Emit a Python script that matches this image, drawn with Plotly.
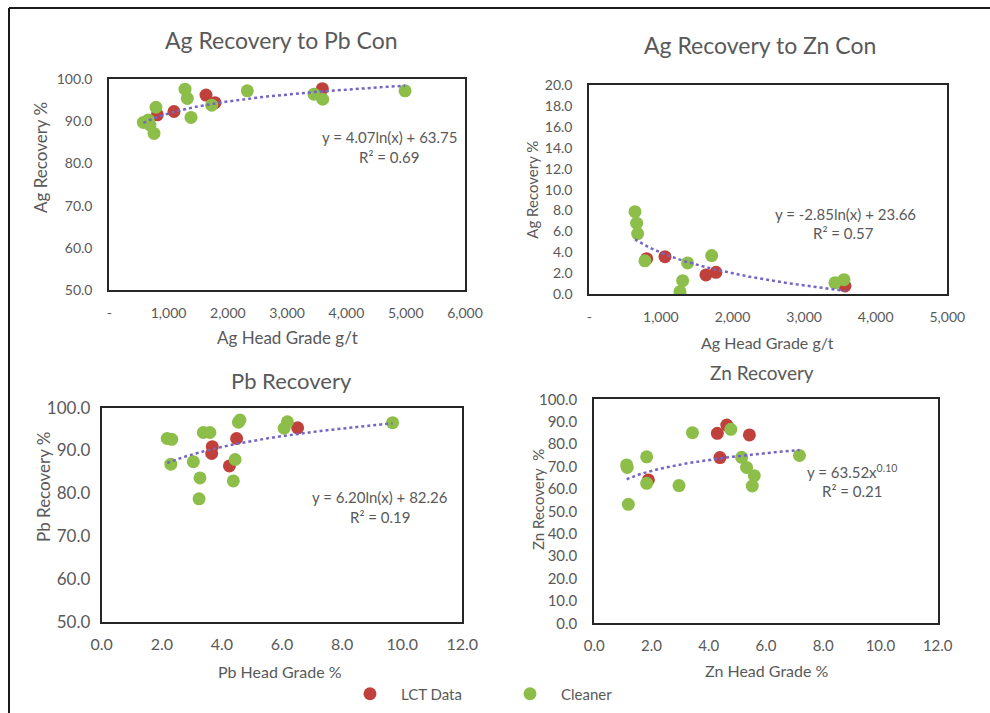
import numpy as np
import plotly.graph_objects as go

W, H = 990, 713

# ---------------- data ----------------
# Panel 1: Ag Recovery to Pb Con
ag_pb_lct_x = [810, 1091, 1631, 1783, 3594]
ag_pb_lct_y = [91.5, 92.3, 96.2, 94.4, 97.7]
ag_pb_cln_x = [574, 658, 686, 754, 787, 1277, 1316, 1378, 1727, 2328, 3453, 3600, 4989]
ag_pb_cln_y = [89.7, 90.3, 89.1, 87.1, 93.3, 97.6, 95.4, 90.9, 93.8, 97.2, 96.4, 95.2, 97.2]
ag_pb_fit = (4.07, 63.75)          # y = a ln(x) + b

# Panel 2: Ag Recovery to Zn Con
ag_zn_lct_x = [801, 1057, 1629, 1769, 3571]
ag_zn_lct_y = [3.4, 3.6, 1.85, 2.1, 0.8]
ag_zn_cln_x = [638, 661, 675, 777, 1266, 1304, 1373, 1709, 3431, 3557]
ag_zn_cln_y = [7.9, 6.8, 5.8, 3.2, 0.25, 1.3, 3.0, 3.7, 1.1, 1.4]
ag_zn_fit = (-2.85, 23.66)         # y = a ln(x) + b

# Panel 3: Pb Recovery
pb_lct_x = [3.68, 3.66, 4.25, 4.49, 6.52]
pb_lct_y = [90.9, 89.3, 86.4, 92.8, 95.3]
pb_cln_x = [2.18, 2.33, 2.30, 3.05, 3.27, 3.24, 3.38, 3.60, 4.38, 4.44, 4.55, 4.60, 6.07, 6.18, 9.68]
pb_cln_y = [92.8, 92.6, 86.8, 87.4, 83.6, 78.7, 94.2, 94.2, 82.9, 87.9, 96.6, 97.1, 95.2, 96.7, 96.5]
pb_fit = (6.20, 82.26)             # y = a ln(x) + b

# Panel 4: Zn Recovery
zn_lct_x = [1.89, 4.30, 4.63, 4.39, 5.42]
zn_lct_y = [64.0, 84.8, 88.5, 74.0, 84.1]
zn_cln_x = [1.13, 1.15, 1.19, 1.83, 1.83, 2.96, 3.43, 4.77, 5.15, 5.32, 5.59, 5.52, 7.17]
zn_cln_y = [70.7, 69.6, 53.1, 74.3, 62.5, 61.5, 85.1, 86.6, 74.1, 69.6, 65.9, 61.3, 74.9]
zn_fit = (63.52, 0.10)             # y = a x^b

ag_x_ticks6 = [0, 1000, 2000, 3000, 4000, 5000, 6000]
ag_x_text6 = ["-", "1,000", "2,000", "3,000", "4,000", "5,000", "6,000"]
ag_x_ticks5 = [0, 1000, 2000, 3000, 4000, 5000]
ag_x_text5 = ["-", "1,000", "2,000", "3,000", "4,000", "5,000"]

RED = "#C0413B"
GREEN = "#8DBE49"
TREND = "#7466C4"
GREY = "#595959"
FONT = "Lato"


def px(x):
    return x / W


def py(y):
    return 1 - y / H


def ln_curve(xs, fit):
    xx = np.linspace(min(xs), max(xs), 120)
    return xx, fit[0] * np.log(xx) + fit[1]


def pow_curve(xs, fit):
    xx = np.linspace(min(xs), max(xs), 120)
    return xx, fit[0] * xx ** fit[1]


fig = go.Figure()

panels = [
    ("x", "y", ag_pb_lct_x, ag_pb_lct_y, ag_pb_cln_x, ag_pb_cln_y, ln_curve(ag_pb_lct_x + ag_pb_cln_x, ag_pb_fit)),
    ("x2", "y2", ag_zn_lct_x, ag_zn_lct_y, ag_zn_cln_x, ag_zn_cln_y, ln_curve(ag_zn_lct_x + ag_zn_cln_x, ag_zn_fit)),
    ("x3", "y3", pb_lct_x, pb_lct_y, pb_cln_x, pb_cln_y, ln_curve(pb_lct_x + pb_cln_x, pb_fit)),
    ("x4", "y4", zn_lct_x, zn_lct_y, zn_cln_x, zn_cln_y, pow_curve(zn_lct_x + zn_cln_x, zn_fit)),
]

for i, (xa, ya, lx, ly, cx, cy, (tx, ty)) in enumerate(panels):
    fig.add_trace(go.Scatter(x=lx, y=ly, mode="markers", name="LCT Data",
                             marker=dict(color=RED, size=13, line=dict(width=0)),
                             xaxis=xa, yaxis=ya, showlegend=(i == 0), legendgroup="lct"))
    fig.add_trace(go.Scatter(x=cx, y=cy, mode="markers", name="Cleaner",
                             marker=dict(color=GREEN, size=13, line=dict(width=0)),
                             xaxis=xa, yaxis=ya, showlegend=(i == 0), legendgroup="cln"))
    fig.add_trace(go.Scatter(x=tx, y=ty, mode="lines", showlegend=False,
                             line=dict(color=TREND, width=2.5, dash="dot"),
                             xaxis=xa, yaxis=ya, hoverinfo="skip"))


def box_axis(domain, rng, tickvals, ticktext=None, fmt=None, size=13, standoff=10):
    d = dict(domain=domain, range=rng, tickvals=tickvals, showgrid=False, zeroline=False,
             showline=True, mirror=True, linecolor="#262626", linewidth=2,
             ticks="", ticklabelstandoff=standoff,
             tickfont=dict(family=FONT, size=size, color=GREY))
    if ticktext is not None:
        d["ticktext"] = ticktext
    if fmt is not None:
        d["tickformat"] = fmt
    return d


layout = dict(
    width=W, height=H, margin=dict(l=0, r=0, t=0, b=0, autoexpand=False),
    paper_bgcolor="white", plot_bgcolor="white",
    font=dict(family=FONT, color=GREY),
    showlegend=True,
    legend=dict(orientation="h", x=px(339), y=py(694), xanchor="left", yanchor="middle",
                font=dict(family=FONT, size=15, color=GREY), entrywidth=93, entrywidthmode="pixels",
                itemwidth=52, bgcolor="rgba(0,0,0,0)"),
)

layout["xaxis"] = box_axis([px(109.3), px(465)], [0, 6000], ag_x_ticks6, ag_x_text6, size=14, standoff=9)
layout["yaxis"] = box_axis([py(290), py(79)], [50, 100], list(range(50, 101, 10)), fmt=".1f", size=14, standoff=12)
layout["yaxis"]["anchor"] = "x"
layout["xaxis"]["anchor"] = "y"

layout["xaxis2"] = box_axis([px(589.3), px(947.3)], [0, 5000], ag_x_ticks5, ag_x_text5, size=14, standoff=9)
layout["yaxis2"] = box_axis([py(294.3), py(85)], [0, 20], list(range(0, 21, 2)), fmt=".1f", size=14, standoff=12)
layout["xaxis2"]["anchor"] = "y2"
layout["yaxis2"]["anchor"] = "x2"

layout["xaxis3"] = box_axis([px(101.7), px(462.3)], [0, 12], list(range(0, 13, 2)), fmt=".1f", size=16, standoff=7)
layout["yaxis3"] = box_axis([py(621.7), py(407.7)], [50, 100], list(range(50, 101, 10)), fmt=".1f", size=17, standoff=6)
layout["xaxis3"]["anchor"] = "y3"
layout["yaxis3"]["anchor"] = "x3"

layout["xaxis4"] = box_axis([px(594.3), px(937.7)], [0, 12], list(range(0, 13, 2)), fmt=".1f", size=15, standoff=8)
layout["yaxis4"] = box_axis([py(623.3), py(399.3)], [0, 100], list(range(0, 101, 10)), fmt=".1f", size=15, standoff=12)
layout["xaxis4"]["anchor"] = "y4"
layout["yaxis4"]["anchor"] = "x4"

fig.update_layout(**layout)


def note(text, x, y, size, angle=0):
    fig.add_annotation(text=text, x=px(x), y=py(y), xref="paper", yref="paper",
                       xanchor="center", yanchor="middle", showarrow=False, textangle=angle,
                       font=dict(family=FONT, size=size, color=GREY))


# chart titles
note("Ag Recovery to Pb Con", 281, 40, 23)
note("Ag Recovery to Zn Con", 760, 45, 23)
note("Pb Recovery", 291, 380, 22)
note("Zn Recovery", 762, 372, 19)

# axis titles
note("Ag Recovery %", 41, 158, 17, -90)
note("Ag Head Grade g/t", 287, 337, 17)
note("Ag Recovery %", 531.7, 190, 15, -90)
note("Ag Head Grade g/t", 767, 342.7, 16)
note("Pb Recovery %", 44, 487, 17, -90)
note("Pb Head Grade %", 280, 671, 16)
note("Zn Recovery  %", 538, 500, 15, -90)
note("Zn Head Grade %", 767, 670, 16)

# trendline equations
note("y = 4.07ln(x) + 63.75", 390, 136.7, 15)
note("R² = 0.69", 389, 156.7, 15)
note("y = -2.85ln(x) + 23.66", 845, 214, 15)
note("R² = 0.57", 843, 233, 15)
note("y = 6.20ln(x) + 82.26", 380, 496.7, 15)
note("R² = 0.19", 380, 516.7, 15)
note("y = 63.52x<sup>0.10</sup>", 851.7, 471.7, 15)
note("R² = 0.21", 851.7, 490.7, 15)

# outer frame (left and top edges visible)
fig.add_shape(type="line", xref="paper", yref="paper", x0=px(9), x1=1, y0=py(8), y1=py(8),
              line=dict(color="#1a1a1a", width=2))
fig.add_shape(type="line", xref="paper", yref="paper", x0=px(9), x1=px(9), y0=py(8), y1=0,
              line=dict(color="#1a1a1a", width=2))

fig.write_html("out.html")
